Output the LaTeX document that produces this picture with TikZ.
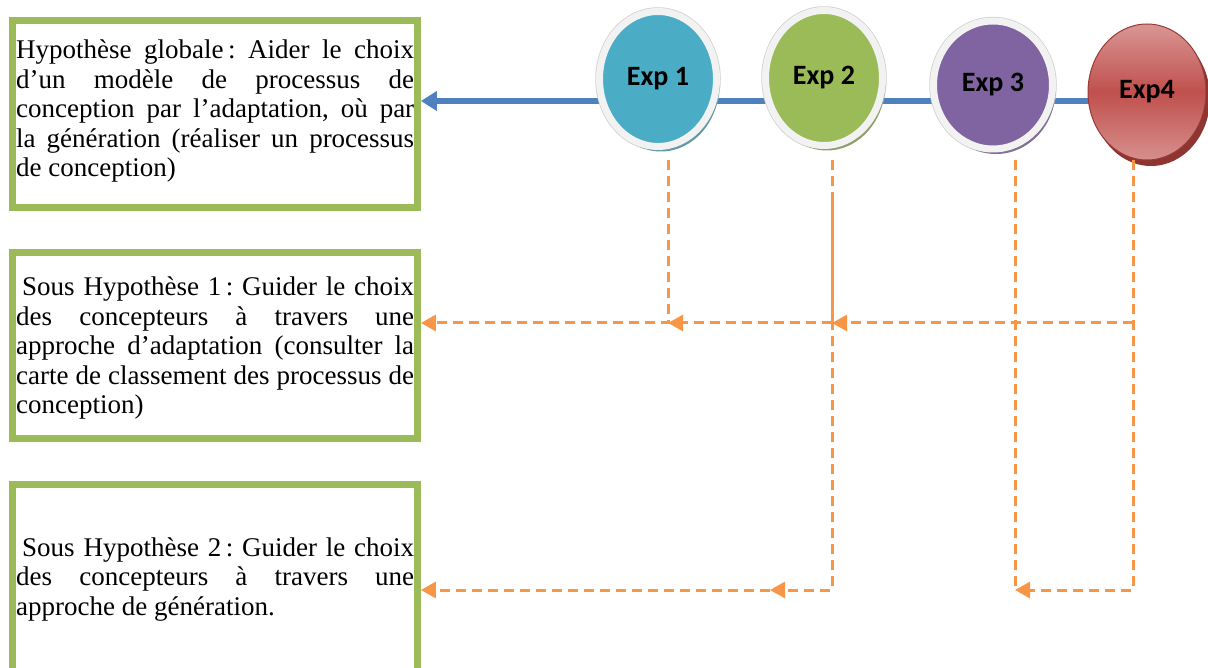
\documentclass[tikz,border=0pt]{standalone}
\usepackage{fontspec}
\setmainfont{Liberation Serif}
\newfontfamily\expfont{Carlito}
\usetikzlibrary{arrows.meta,shapes.geometric,shadows}
\definecolor{boxgreen}{HTML}{9BBB59}
\definecolor{lineblue}{HTML}{4F81BD}
\definecolor{orangeln}{HTML}{F79646}
\definecolor{expaqua}{HTML}{4BACC6}
\definecolor{expgreen}{HTML}{9BBB59}
\definecolor{exppurple}{HTML}{8064A2}
\definecolor{expred}{HTML}{C0504D}
\definecolor{expredlight}{HTML}{D99694}
\definecolor{expreddark}{HTML}{8E3532}
\definecolor{ringwhite}{HTML}{F2F2F2}
\definecolor{ringedge}{HTML}{CFCFCF}
\hyphenpenalty=10000
\frenchspacing
\begin{document}
\begin{tikzpicture}[x=1pt,y=-1pt,
  hypbox/.style={draw=boxgreen,line width=7pt,rectangle,minimum width=404.7pt,inner sep=0pt},
  hyptext/.style={inner sep=0pt,text width=398pt,align=justify,anchor=base west,
     font=\fontsize{27}{29.5}\selectfont},
  expbub/.style={ellipse,inner sep=0pt,fill=#1,draw=ringwhite,line width=7pt,
     minimum width=117pt,minimum height=135pt,
     preaction={draw=ringedge,line width=8.5pt},
     drop shadow={shadow xshift=3pt,shadow yshift=-5pt,opacity=1,fill=#1!55!gray},
     font=\expfont\bfseries\fontsize{28}{30}\selectfont},
  oline/.style={draw=orangeln,line width=3pt,dash pattern=on 10pt off 6pt},
  oarrow/.style={oline,-{Triangle[length=15pt,width=16pt]}}
]
\useasboundingbox (0,0) rectangle (1208,668);
\clip (0,0) rectangle (1208,668);

% boxes
\node[hypbox,minimum height=186.8pt] (hg) at (215.05,113.9) {};
\node[hypbox,minimum height=186.1pt] (sh1) at (215.05,345.75) {};
\node[hypbox,minimum height=235.7pt] (sh2) at (215.05,602.15) {};

\node[hyptext] (hgt) at (16,59) {Hypothèse globale\,: Aider le choix\linebreak
d’un modèle de processus de\linebreak
conception par l’adaptation, où par\linebreak
la génération (réaliser un processus\linebreak
de conception)};
\node[hyptext] (sh1t) at (16,296) {\hspace*{6pt}Sous Hypothèse 1\,: Guider le choix\linebreak
des concepteurs à travers une\linebreak
approche d’adaptation (consulter la\linebreak
carte de classement des processus de\linebreak
conception)};
\node[hyptext] (sh2t) at (16,556) {\hspace*{6pt}Sous Hypothèse 2\,: Guider le choix\linebreak
des concepteurs à travers une\linebreak
approche de génération.};

% blue timeline
\coordinate (bl) at (1100,101);
\draw[draw=lineblue,line width=6pt,-{Triangle[length=16pt,width=19pt]}] (bl) -- (bl -| hg.east);

% experiment bubbles
\node[expbub=expaqua] (e1) at (658,79) {Exp 1};
\node[expbub=expgreen] (e2) at (824,78) {Exp 2};
\node[expbub=exppurple,minimum width=119pt,minimum height=128pt] (e3) at (993,85) {Exp 3};
\node[ellipse,inner sep=0pt,minimum width=118pt,minimum height=136pt,
  draw=expreddark!80!expred,line width=1pt,
  top color=expredlight,bottom color=expredlight!90!expred,middle color=expred,
  drop shadow={shadow xshift=4pt,shadow yshift=-6pt,opacity=1,fill=expreddark},
  font=\expfont\bfseries\fontsize{28}{30}\selectfont] (e4) at (1147,92) {Exp4};

% orange connectors
\coordinate (d1) at (668,160);
\coordinate (d2) at (832,160);
\coordinate (d3) at (1015,160);
\coordinate (d4) at (1133,160);
\coordinate (j11) at (668,323);
\coordinate (j21) at (832,323);
\coordinate (j41) at (1133,323);
\coordinate (j22) at (832,590);
\coordinate (j32) at (1015,590);
\coordinate (j42) at (1133,590);
\coordinate (m2) at (770,590);
\coordinate (o2) at (832,198);

\draw[oarrow] (d4) -- (j42) -- (j32);
\draw[oline] (d3) -- (j32);
\draw[oarrow] (j41) -- (j21);
\draw[oarrow] (d2) -- (j22) -- (m2);
\draw[draw=orangeln,line width=3pt] (o2) -- (j21);
\draw[oarrow] (m2) -- (j22 -| sh2.east);
\draw[oarrow] (j21) -- (j11);
\draw[oarrow] (d1) -- (j11) -- (j11 -| sh1.east);
\end{tikzpicture}
\end{document}
